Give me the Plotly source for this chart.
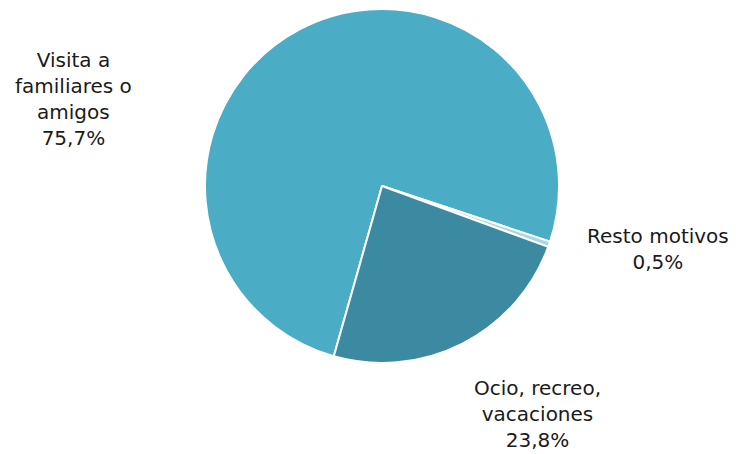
import plotly.graph_objects as go

labels = ["Visita a<br>familiares o<br>amigos", "Resto motivos", "Ocio, recreo,<br>vacaciones"]
values = [75.7, 0.5, 23.8]
colors = ["#4BACC6", "#A8D6E3", "#3C8AA2"]

W, H = 744, 454
cx, cy, r = 382, 186, 177

fig = go.Figure(go.Pie(
    labels=labels,
    values=values,
    sort=False,
    direction="clockwise",
    rotation=195.8,
    textinfo="none",
    hoverinfo="label+percent",
    marker=dict(colors=colors, line=dict(color="white", width=2)),
    domain=dict(x=[(cx - r) / W, (cx + r) / W], y=[1 - (cy + r) / H, 1 - (cy - r) / H]),
    showlegend=False,
))

label_pos = [(73, 99), (658, 249), (537, 414)]
for lab, val, (px, py) in zip(labels, values, label_pos):
    fig.add_annotation(
        x=px / W, y=1 - py / H, xref="paper", yref="paper",
        text=f"{lab}<br>{str(val).replace('.', ',')}%",
        showarrow=False, xanchor="center", yanchor="middle", align="center",
        font=dict(family="DejaVu Sans", size=20, color="#1a1a1a"),
    )

fig.update_layout(
    width=W, height=H,
    margin=dict(l=0, r=0, t=0, b=0),
    paper_bgcolor="white", plot_bgcolor="white",
)

fig.write_html(
    "out.html",
    config={"displayModeBar": False},
    post_script="document.body.style.margin='0';document.body.style.overflow='hidden';",
)
